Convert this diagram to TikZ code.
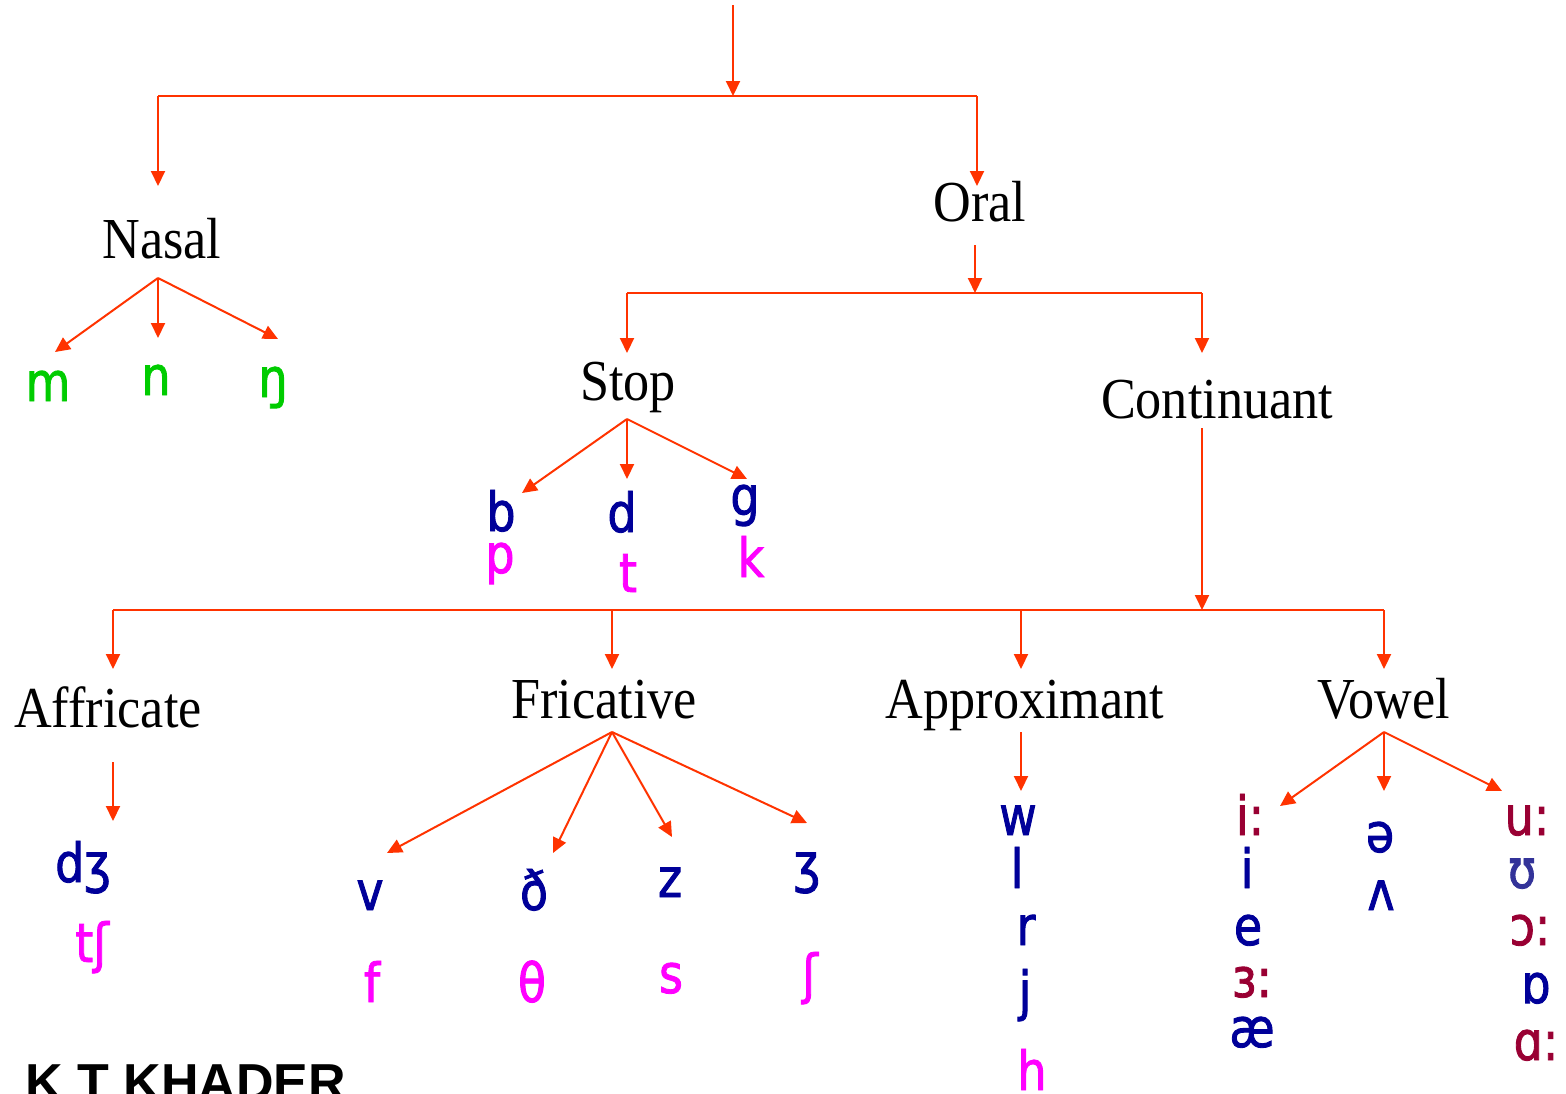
\documentclass[tikz,border=0pt]{standalone}
\usepackage{fontspec}
\setmainfont{Liberation Serif}
\newfontfamily\catfont[FakeStretch=0.9]{Liberation Serif}
\newfontfamily\ipafont[FakeStretch=0.85,FakeBold=1.6]{DejaVu Sans}
\newfontfamily\namefont{Liberation Sans}
\usetikzlibrary{arrows.meta}
\definecolor{arrowred}{HTML}{FF3300}
\definecolor{ipablue}{HTML}{000099}
\definecolor{ipapink}{HTML}{FF00FF}
\definecolor{ipagreen}{HTML}{00CC00}
\definecolor{ipared}{HTML}{990033}
\definecolor{ipaviolet}{HTML}{333399}
\tikzset{
  cat/.style={anchor=base,inner sep=0pt,font=\catfont\fontsize{29}{34}\selectfont},
  ipa/.style={anchor=base,inner sep=0pt,font=\ipafont\fontsize{27}{32}\selectfont},
  link/.style={draw=arrowred,line width=1pt},
  arr/.style={link,-{Triangle[length=7.5pt,width=7pt]}}
}
\begin{document}
\begin{tikzpicture}[x=0.5pt,y=-0.5pt]
\useasboundingbox (0,0) rectangle (1566,1093);
% category labels
\node[cat] (nasal) at (162,258) {Nasal};
\node[cat] (oral) at (980,221) {Oral};
\node[cat] (stop) at (628,400) {Stop};
\node[cat] (cont) at (1217,418) {Continuant};
\node[cat] (affr) at (108,727) {Affricate};
\node[cat] (fric) at (604,718) {Fricative};
\node[cat] (appr) at (1025,718) {Approximant};
\node[cat] (vowel) at (1384,718) {Vowel};
% sounds
\foreach \n/\x/\y/\t/\c in {m/48/401/m/ipagreen, n/156/395/n/ipagreen, ng/273/397/ŋ/ipagreen,
    b/501/531/b/ipablue, p/500/573/p/ipapink, d/622/532/d/ipablue, t/628/592/t/ipapink,
    g/745/515/g/ipablue, k/751/577/k/ipapink,
    dzh/83/882/dʒ/ipablue, tsh/92/962/tʃ/ipapink,
    v/370/910/v/ipablue, dh/534/910/ð/ipablue, z/670/897/z/ipablue, zh/807/882/ʒ/ipablue,
    f/372/1002/f/ipapink, th/532/1002/θ/ipapink, s/671/993/s/ipapink, sh/810/993/ʃ/ipapink,
    w/1018/835/w/ipablue, l/1017/888/l/ipablue, r/1026/945/r/ipablue, j/1025/1010/j/ipablue,
    h/1032/1090/h/ipapink,
    ii/1250/835/i:/ipared, i/1247/888/i/ipablue, e/1248/945/e/ipablue, er/1252/997/ɜ:/ipared,
    ae/1252/1047/æ/ipablue, schwa/1380/852/ə/ipablue, wedge/1381/910/ʌ/ipablue,
    uu/1527/835/u:/ipared, u/1522/888/ʊ/ipaviolet, oo/1530/945/ɔ:/ipared,
    o/1536/1003/ɒ/ipablue, aa/1536/1060/ɑ:/ipared}
  \node[ipa,text=\c] (\n) at (\x,\y) {\t};
\node[anchor=base west,inner sep=0pt,font=\namefont\bfseries\fontsize{26}{30}\selectfont] (sign) at (25,1100) {K T KHADER};
% forks and arrow tips
\coordinate (root) at (733,5);
\coordinate (root-fork) at (733,96);
\coordinate (nasal-corner) at (158,96);
\coordinate (oral-corner) at (977,96);
\coordinate (nasal-in) at (158,186);
\coordinate (oral-in) at (977,186);
\coordinate (oral-out) at (975,245);
\coordinate (oral-fork) at (975,293);
\coordinate (stop-corner) at (627,293);
\coordinate (cont-corner) at (1202,293);
\coordinate (stop-in) at (627,353);
\coordinate (cont-in) at (1202,353);
\coordinate (nasal-fork) at (158,278);
\coordinate (m-tip) at (55,352);
\coordinate (n-tip) at (158,338);
\coordinate (ng-tip) at (278,339);
\coordinate (stop-fork) at (627,419);
\coordinate (b-tip) at (522,493);
\coordinate (d-tip) at (627,479);
\coordinate (g-tip) at (747,479);
\coordinate (cont-out) at (1202,428);
\coordinate (cont-fork) at (1202,610);
\coordinate (affr-corner) at (113,610);
\coordinate (fric-corner) at (612,610);
\coordinate (appr-corner) at (1021,610);
\coordinate (vowel-corner) at (1384,610);
\coordinate (affr-in) at (113,669);
\coordinate (fric-in) at (612,669);
\coordinate (appr-in) at (1021,669);
\coordinate (vowel-in) at (1384,669);
\coordinate (affr-out) at (113,762);
\coordinate (dzh-tip) at (113,821);
\coordinate (fric-fork) at (612,732);
\coordinate (v-tip) at (387,853);
\coordinate (dh-tip) at (553,853);
\coordinate (z-tip) at (672,837);
\coordinate (zh-tip) at (807,823);
\coordinate (appr-out) at (1021,732);
\coordinate (w-tip) at (1021,791);
\coordinate (vowel-fork) at (1384,732);
\coordinate (ii-tip) at (1280,806);
\coordinate (schwa-tip) at (1384,791);
\coordinate (uu-tip) at (1502,791);
% connectors
\draw[arr] (root) -- (root-fork);
\draw[link] (nasal-corner) -- (oral-corner);
\draw[arr] (nasal-corner) -- (nasal-in);
\draw[arr] (oral-corner) -- (oral-in);
\draw[arr] (oral-out) -- (oral-fork);
\draw[link] (stop-corner) -- (cont-corner);
\draw[arr] (stop-corner) -- (stop-in);
\draw[arr] (cont-corner) -- (cont-in);
\foreach \s in {m,n,ng} \draw[arr] (nasal-fork) -- (\s-tip);
\foreach \s in {b,d,g} \draw[arr] (stop-fork) -- (\s-tip);
\draw[arr] (cont-out) -- (cont-fork);
\draw[link] (affr-corner) -- (vowel-corner);
\foreach \c in {affr,fric,appr,vowel} \draw[arr] (\c-corner) -- (\c-in);
\draw[arr] (affr-out) -- (dzh-tip);
\foreach \s in {v,dh,z,zh} \draw[arr] (fric-fork) -- (\s-tip);
\draw[arr] (appr-out) -- (w-tip);
\foreach \s in {ii,schwa,uu} \draw[arr] (vowel-fork) -- (\s-tip);
\end{tikzpicture}
\end{document}
